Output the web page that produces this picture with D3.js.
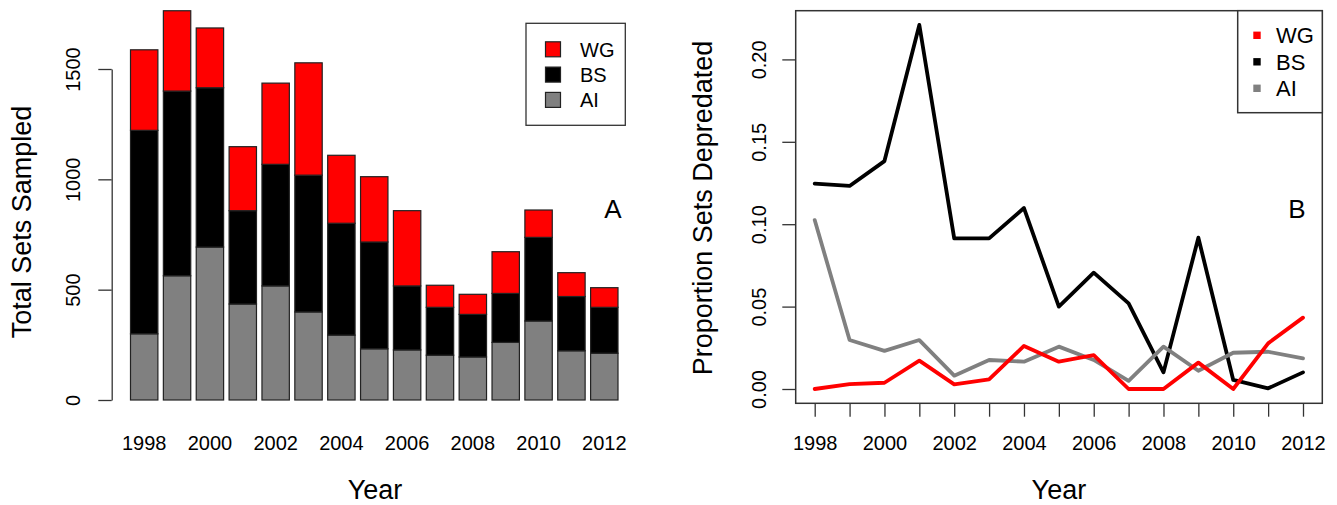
<!DOCTYPE html>
<html>
<head>
<meta charset="utf-8">
<script src="https://cdn.jsdelivr.net/npm/d3@7"></script>
<style>
  html, body { margin: 0; padding: 0; background: #fff; }
  svg { display: block; font-family: "Liberation Sans", Arial, Helvetica, sans-serif; }
</style>
</head>
<body>
<svg id="chart" width="1337" height="505"></svg>
<script>
// data
var years = [1998, 1999, 2000, 2001, 2002, 2003, 2004, 2005, 2006, 2007, 2008, 2009, 2010, 2011, 2012];
var setsAI = [300, 563, 693, 435, 517, 399, 294, 232, 227, 203, 195, 261, 358, 223, 212];
var setsBS = [922, 837, 722, 423, 551, 620, 507, 484, 290, 217, 193, 222, 379, 246, 208];
var setsWG = [365, 364, 271, 290, 368, 509, 308, 296, 341, 100, 91, 189, 124, 108, 89];

var propWG = [0.000, 0.003, 0.0038, 0.0172, 0.0028, 0.0059, 0.0261, 0.0166, 0.0206, 0.000, 0.000, 0.016, 0.000, 0.0277, 0.0433];
var propBS = [0.1246, 0.1232, 0.1383, 0.2209, 0.0914, 0.0914, 0.1098, 0.0500, 0.0706, 0.0520, 0.0101, 0.0918, 0.0055, 0.0004, 0.0101];
var propAI = [0.1025, 0.0297, 0.0231, 0.0297, 0.0081, 0.0176, 0.0166, 0.0257, 0.0176, 0.0049, 0.0257, 0.0111, 0.0220, 0.0226, 0.0186];

var leftTicks = [0, 500, 1000, 1500];
var rightTicks = [0, 0.05, 0.10, 0.15, 0.20];
var labelYears = [1998, 2000, 2002, 2004, 2006, 2008, 2010, 2012];

var regions = ["WG", "BS", "AI"];
var colors = {WG: "#ff0000", BS: "#000000", AI: "#808080"};

var svg = d3.select("#chart");
var boxCol = "#333";

// ---------- panel A: stacked bars ----------
var rows = years.map(function (y, i) {
    return {year: y, AI: setsAI[i], BS: setsBS[i], WG: setsWG[i]};
});
var stack = d3.stack().keys(["AI", "BS", "WG"])(rows);

var xA = d3.scaleBand().domain(years).range([130.5, 618]).paddingInner(1 / 6).paddingOuter(0);
var yA = d3.scaleLinear().domain([0, 1500]).range([400, 69]);

var gA = svg.append("g");
gA.selectAll("g.layer").data(stack).enter().append("g")
    .attr("class", "layer")
    .attr("fill", function (d) { return colors[d.key]; })
    .selectAll("rect").data(function (d) { return d; }).enter().append("rect")
    .attr("x", function (d) { return xA(d.data.year); })
    .attr("width", xA.bandwidth())
    .attr("y", function (d) { return yA(d[1]); })
    .attr("height", function (d) { return yA(d[0]) - yA(d[1]); })
    .attr("stroke", "#222").attr("stroke-width", 1.2);

var axA = gA.append("g").attr("transform", "translate(111.7,0)")
    .call(d3.axisLeft(yA).tickValues(leftTicks).tickSize(13.4).tickSizeOuter(0).tickFormat(d3.format("d")));
axA.select(".domain").attr("stroke", boxCol).attr("stroke-width", 1.3);
axA.selectAll(".tick line").attr("stroke", boxCol).attr("stroke-width", 1.3);
axA.selectAll(".tick text")
    .attr("x", null).attr("dy", null)
    .attr("transform", "translate(-31.7,0) rotate(-90)")
    .attr("text-anchor", "middle")
    .attr("font-size", 20).attr("fill", "#000")
    .attr("font-family", "Liberation Sans, Arial, sans-serif");

gA.selectAll("text.xlab").data(labelYears).enter().append("text")
    .attr("class", "xlab")
    .attr("x", function (d) { return xA(d) + xA.bandwidth() / 2; })
    .attr("y", 450).attr("text-anchor", "middle").attr("font-size", 20)
    .text(function (d) { return d; });

gA.append("text").attr("x", 375).attr("y", 499).attr("text-anchor", "middle")
    .attr("font-size", 27).text("Year");
gA.append("text").attr("transform", "translate(31,222) rotate(-90)")
    .attr("text-anchor", "middle").attr("font-size", 27).text("Total Sets Sampled");
gA.append("text").attr("x", 613).attr("y", 218).attr("text-anchor", "middle")
    .attr("font-size", 26).text("A");

// legend A
var legA = gA.append("g");
legA.append("rect").attr("x", 526).attr("y", 23.3).attr("width", 99.3).attr("height", 102)
    .attr("fill", "#fff").attr("stroke", boxCol).attr("stroke-width", 1.3);
regions.forEach(function (r, i) {
    var cy = 49.3 + i * 25.3;
    legA.append("rect").attr("x", 545.5).attr("y", cy - 7.5).attr("width", 15).attr("height", 15)
        .attr("fill", colors[r]).attr("stroke", "#222").attr("stroke-width", 1.2);
    legA.append("text").attr("x", 580).attr("y", cy + 7.5).attr("font-size", 20).text(r);
});

// ---------- panel B: proportion lines ----------
var xB = d3.scaleLinear().domain([1998, 2012]).range([814.7, 1303]);
var yB = d3.scaleLinear().domain([0, 0.2]).range([389, 59.4]);
var gB = svg.append("g");

gB.append("rect").attr("x", 795.7).attr("y", 10.7).attr("width", 1322.3 - 795.7).attr("height", 403.3 - 10.7)
    .attr("fill", "none").attr("stroke", boxCol).attr("stroke-width", 1.5);

var axBy = gB.append("g").attr("transform", "translate(795.7,0)")
    .call(d3.axisLeft(yB).tickValues(rightTicks).tickSize(13.4).tickSizeOuter(0).tickFormat(d3.format(".2f")));
axBy.select(".domain").remove();
axBy.selectAll(".tick line").attr("stroke", boxCol).attr("stroke-width", 1.3);
axBy.selectAll(".tick text")
    .attr("x", null).attr("dy", null)
    .attr("transform", "translate(-29.5,0) rotate(-90)")
    .attr("text-anchor", "middle")
    .attr("font-size", 20).attr("fill", "#000")
    .attr("font-family", "Liberation Sans, Arial, sans-serif");

var axBx = gB.append("g").attr("transform", "translate(0,403.3)")
    .call(d3.axisBottom(xB).tickValues(years).tickSize(13.4).tickSizeOuter(0)
        .tickFormat(function (d) { return labelYears.indexOf(d) >= 0 ? d : ""; }));
axBx.select(".domain").remove();
axBx.selectAll(".tick line").attr("stroke", boxCol).attr("stroke-width", 1.3);
axBx.selectAll(".tick text").attr("y", null).attr("dy", null)
    .attr("transform", "translate(0,46.7)")
    .attr("font-size", 20).attr("fill", "#000")
    .attr("font-family", "Liberation Sans, Arial, sans-serif");

var line = d3.line()
    .x(function (d, i) { return xB(years[i]); })
    .y(function (d) { return yB(d); });

[["BS", propBS], ["AI", propAI], ["WG", propWG]].forEach(function (s) {
    gB.append("path").datum(s[1]).attr("d", line)
        .attr("fill", "none").attr("stroke", colors[s[0]])
        .attr("stroke-width", 3.8).attr("stroke-linejoin", "round").attr("stroke-linecap", "round");
});

gB.append("text").attr("x", 1058.9).attr("y", 499).attr("text-anchor", "middle")
    .attr("font-size", 27).text("Year");
gB.append("text").attr("transform", "translate(712,208) rotate(-90)")
    .attr("text-anchor", "middle").attr("font-size", 27).text("Proportion Sets Depredated");
gB.append("text").attr("x", 1297).attr("y", 218).attr("text-anchor", "middle")
    .attr("font-size", 26).text("B");

// legend B
var legB = gB.append("g");
legB.append("rect").attr("x", 1237.7).attr("y", 10.7).attr("width", 1322.3 - 1237.7).attr("height", 102)
    .attr("fill", "#fff").attr("stroke", boxCol).attr("stroke-width", 1.5);
regions.forEach(function (r, i) {
    var cy = 35.3 + i * 26.5;
    legB.append("rect").attr("x", 1253.3).attr("y", cy - 3.7).attr("width", 7.4).attr("height", 7.4)
        .attr("fill", colors[r]);
    legB.append("text").attr("x", 1276).attr("y", cy + 8).attr("font-size", 22).text(r);
});
</script>
</body>
</html>
